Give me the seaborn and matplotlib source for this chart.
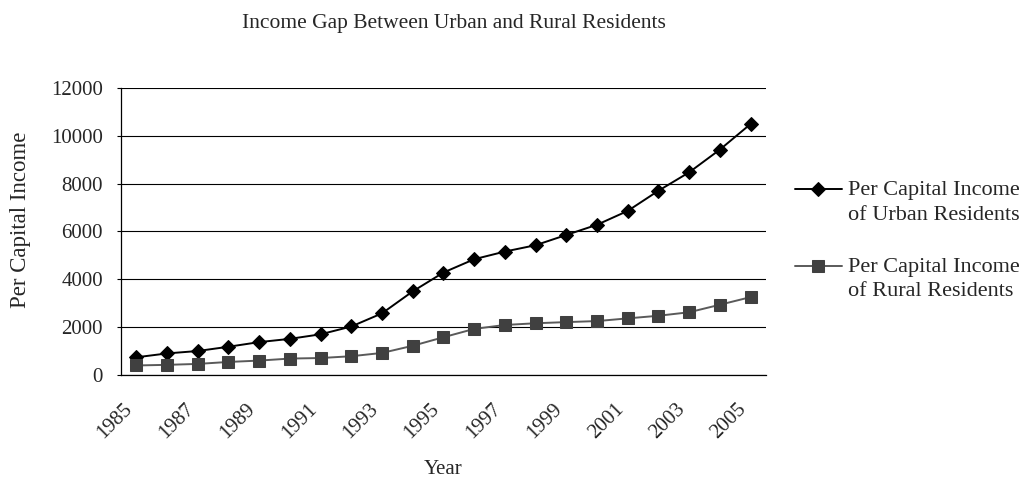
import pandas as pd
import numpy as np
import matplotlib
matplotlib.use("Agg")
import matplotlib.pyplot as plt
import seaborn as sns
from matplotlib.legend_handler import HandlerLine2D
from matplotlib.transforms import Affine2D

years = list(range(1985, 2006))
urban = [739.1, 900.9, 1002.1, 1180.2, 1373.9, 1510.2, 1700.6, 2026.6, 2577.4, 3496.2,
         4283.0, 4838.9, 5160.3, 5425.1, 5854.0, 6280.0, 6859.6, 7702.8, 8472.2, 9421.6, 10493.0]
rural = [397.6, 423.8, 462.6, 544.9, 601.5, 686.3, 708.6, 784.0, 921.6, 1221.0,
         1577.7, 1926.1, 2090.1, 2162.0, 2210.3, 2253.4, 2366.4, 2475.6, 2622.2, 2936.4, 3254.9]
tick_labels = [str(y) for y in years[::2]]


# legend handle sits on the first line of a two line label (like excel)
class TopLineHandler(HandlerLine2D):
    def __init__(self, dy=0, **kw):
        super().__init__(**kw)
        self.dy = dy

    def create_artists(self, legend, orig_handle, xdescent, ydescent, width, height, fontsize, trans):
        trans = Affine2D().translate(0, self.dy) + trans
        return super().create_artists(legend, orig_handle, xdescent, ydescent, width, height, fontsize, trans)


sns.set_style("white")
plt.rcParams["font.family"] = ["Liberation Serif", "DejaVu Serif"]

df = pd.DataFrame({"pos": np.arange(len(years)), "year": years, "urban": urban, "rural": rural})

fig = plt.figure(figsize=(10.27, 4.8), dpi=100)
ax = fig.add_axes([0.1178, 0.2188, 0.628, 0.598])

sns.lineplot(data=df, x="pos", y="urban", ax=ax, color="black", marker="D", markersize=7,
             markeredgecolor="black", linewidth=1.4, label="Per Capital Income\nof Urban Residents")
sns.lineplot(data=df, x="pos", y="rural", ax=ax, color="#5a5a5a", marker="s", markersize=9,
             markerfacecolor="#404040", markeredgecolor="#404040", linewidth=1.4,
             label="Per Capital Income\nof Rural Residents")

ax.set_xlim(-0.5, len(years) - 0.5)
ax.set_ylim(0, 12000)
ax.set_yticks(range(0, 12001, 2000))
ax.yaxis.grid(True, color="black", linewidth=0.8)
ax.set_axisbelow(True)

ax.set_xticks(df["pos"][::2])
ax.set_xticklabels(tick_labels, rotation=45, ha="right")
ax.set_xticks(np.arange(-0.5, len(years)), minor=True)
ax.tick_params(axis="x", which="major", length=0, labelsize=15, pad=18)
ax.tick_params(axis="x", which="minor", direction="in", length=4.5, width=0.8, color="black")
ax.tick_params(axis="y", direction="out", length=3, width=0.8, color="black", labelsize=15,
               left=True, pad=10)

for s in ["top", "right"]:
    ax.spines[s].set_visible(False)
for s in ["left", "bottom"]:
    ax.spines[s].set_color("black")
    ax.spines[s].set_linewidth(0.9)

ax.set_xlabel("Year", fontsize=15)
ax.xaxis.set_label_coords(0.5, -0.296)
ax.set_ylabel("Per Capital Income", fontsize=16.5)
ax.yaxis.set_label_coords(-0.14, 0.54)
fig.text(0.442, 0.952, "Income Gap Between Urban and Rural Residents", fontsize=15.5,
         ha="center", va="center")

handles, labels = ax.get_legend_handles_labels()
leg = fig.legend(handles, labels, loc="center left", bbox_to_anchor=(0.774, 0.497), frameon=False,
                 fontsize=16, handlelength=2.1, handletextpad=0.3, labelspacing=1.5,
                 borderpad=0, borderaxespad=0,
                 handler_map={h: TopLineHandler(dy=9.5) for h in handles})
for t in leg.get_texts():
    t.set_linespacing(1.38)
ax.get_legend().remove()

fig.savefig("out.png", dpi=100)
